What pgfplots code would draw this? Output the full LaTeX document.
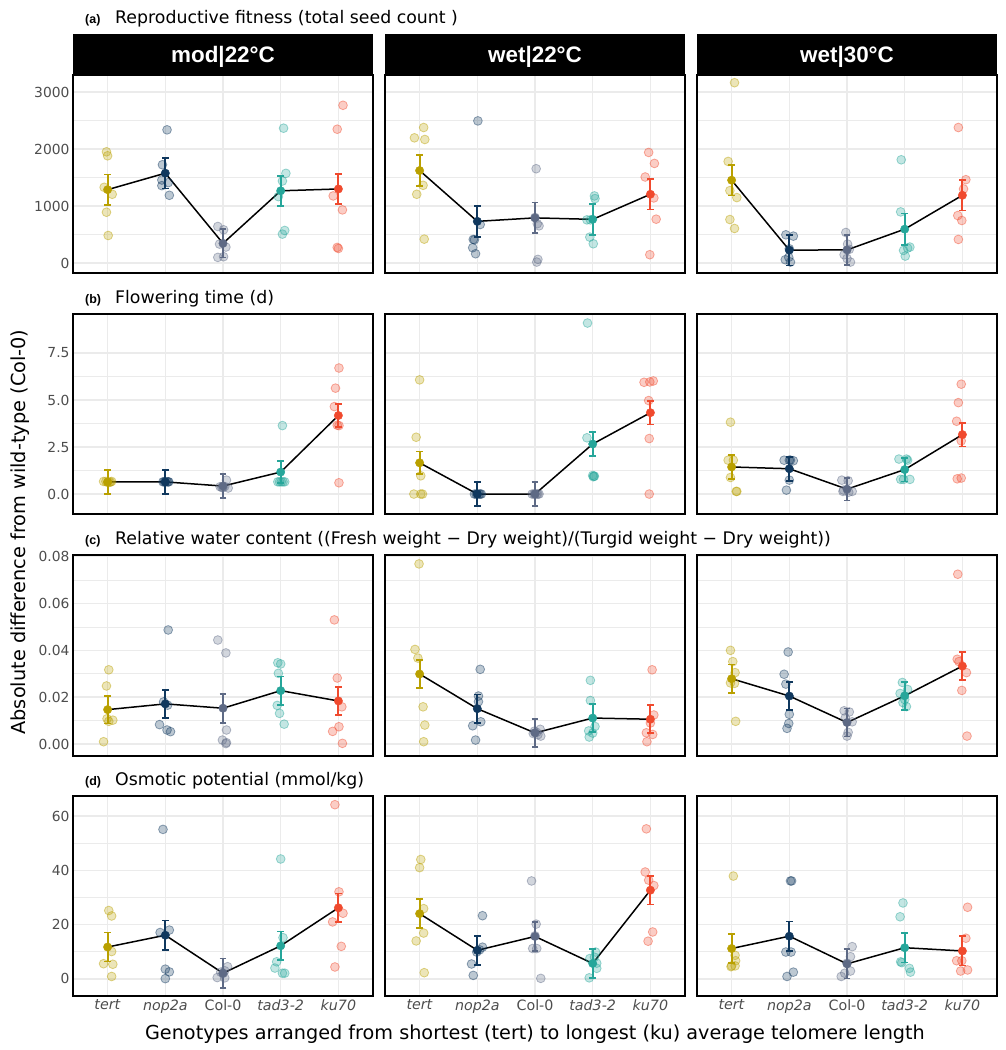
\documentclass[border=0pt]{standalone}
\usepackage{fontspec}
\setmainfont{DejaVu Sans}
\newfontfamily\arialfont{Liberation Sans}
\usepackage{pgfplots}
\pgfplotsset{compat=1.18}
\definecolor{tertc}{RGB}{185,160,0}
\definecolor{nopc}{RGB}{16,56,94}
\definecolor{colc}{RGB}{94,106,133}
\definecolor{tadc}{RGB}{38,166,154}
\definecolor{kuc}{RGB}{240,74,46}
\definecolor{gridc}{RGB}{235,235,235}
\definecolor{tickc}{RGB}{77,77,77}
\pgfplotsset{
 panel/.style={anchor=north west, scale only axis, width=300bp, height=200bp,
   xmin=0.4, xmax=5.6, xtick={1,2,3,4,5}, xticklabels={},
   scaled y ticks=false,
   major tick length=0pt, minor tick length=0pt,
   axis line style={line width=1.3bp, black},
   ymajorgrids, yminorgrids, xmajorgrids, minor y tick num=1,
   major grid style={line width=1.5bp, gridc},
   minor grid style={line width=0.8bp, gridc},
   tick label style={font=\fontsize{13.9}{16}\selectfont, text=tickc}},
 rowa/.style={height=198bp, ymin=-175, ymax=3298, ytick={0,1000,2000,3000}, yticklabels={0,1000,2000,3000}},
 rowb/.style={ymin=-1.06, ymax=9.57, ytick={0,2.5,5,7.5}, yticklabels={0.0,2.5,5.0,7.5}},
 rowc/.style={height=201bp, ymin=-0.0051, ymax=0.0807, ytick={0,0.02,0.04,0.06,0.08}, yticklabels={0.00,0.02,0.04,0.06,0.08}},
 rowd/.style={ymin=-6.3, ymax=67.4, ytick={0,20,40,60}, yticklabels={0,20,40,60}},
 noyl/.style={yticklabels={}},
 xlab/.style={xticklabels={\textit{tert},\textit{nop2a},Col-0,\textit{tad3-2},\textit{ku70}},
   xticklabel style={font=\fontsize{14.3}{16}\selectfont, text=tickc}},
 jit/.style={only marks, mark=*, mark size=4.4bp, color=#1, mark options={line width=0.8bp, draw opacity=0.45, fill opacity=0.28}},
 mn/.style={only marks, mark=*, mark size=4.2bp, color=#1,
   error bars/y dir=both, error bars/y explicit,
   error bars/error mark=-,
   error bars/error bar style={line width=1.9bp, #1},
   error bars/error mark options={rotate=90, line width=1.7bp, mark size=3.3bp, #1}},
}
\newcommand\jit[2]{\addplot[jit=#1] coordinates {#2};}
\newcommand\mline{\addplot[black, line width=1.5bp, mark=none] coordinates}
\newcommand\mean[4]{\addplot[mn=#1] coordinates {(#2,#3) +- (0,#4)};}
\newcommand\rowtitle[3]{%
  \node[anchor=base west, inner sep=0pt] at (85bp,-#1 bp) {\arialfont\bfseries\fontsize{12.5}{14}\selectfont (#2)};
  \node[anchor=base west, inner sep=0pt] at (115bp,-#1 bp) {\fontsize{17.4}{20}\selectfont #3};}
\begin{document}
\begin{tikzpicture}
\path[use as bounding box] (0bp,0bp) rectangle (1006bp,-1050bp);
% ---------------- Row a ----------------
\begin{axis}[panel, rowa, at={(73bp,-75bp)}]
\jit{tertc}{(0.98,1951)(1.00,1881)(0.94,1328)(1.08,1206)(0.98,891)(1.01,483)}
\jit{nopc}{(2.03,2336)(1.95,1724)(1.94,1456)(1.94,1357)(2.05,1410)(2.07,1188)}
\jit{colc}{(2.91,641)(3.01,583)(2.94,332)(3.05,280)(2.91,99)(3.01,111)}
\jit{tadc}{(4.05,2365)(4.09,1573)(4.03,1439)(3.96,1165)(4.07,571)(4.03,507)}
\jit{kuc}{(5.08,2767)(4.98,2347)(4.91,1177)(5.07,932)(4.98,274)(5.00,255)}
\mline{(1,1287)(2,1576)(3,345)(4,1267)(5,1299)};
\mean{tertc}{1}{1287}{268}\mean{nopc}{2}{1576}{271}\mean{colc}{3}{345}{248}\mean{tadc}{4}{1267}{265}\mean{kuc}{5}{1299}{268}
\end{axis}
\begin{axis}[panel, rowa, noyl, at={(385bp,-75bp)}]
\jit{tertc}{(1.07,2377)(0.91,2196)(1.09,2167)(1.06,1363)(0.95,1206)(1.08,419)}
\jit{nopc}{(2.01,2493)(2.05,676)(1.93,414)(1.95,408)(1.92,268)(1.97,163)}
\jit{colc}{(3.02,1654)(3.00,800)(3.04,690)(3.07,652)(3.05,64)(3.03,17)}
\jit{tadc}{(4.03,1177)(4.04,1130)(3.90,757)(3.96,757)(3.95,454)(4.01,338)}
\jit{kuc}{(4.97,1940)(5.07,1747)(4.91,1509)(5.06,1142)(5.10,769)(4.99,146)}
\mline{(1,1622)(2,731)(3,792)(4,766)(5,1206)};
\mean{tertc}{1}{1622}{271}\mean{nopc}{2}{731}{271}\mean{colc}{3}{792}{268}\mean{tadc}{4}{766}{271}\mean{kuc}{5}{1206}{268}
\end{axis}
\begin{axis}[panel, rowa, noyl, at={(697bp,-75bp)}]
\jit{tertc}{(1.05,3163)(0.94,1782)(0.97,1270)(1.09,1148)(0.97,763)(1.05,606)}
\jit{nopc}{(1.94,495)(2.07,472)(2.00,250)(1.99,100)(1.93,58)(2.02,17)}
\jit{colc}{(2.98,536)(3.01,332)(3.04,240)(2.95,146)(3.00,80)(3.06,17)}
\jit{tadc}{(3.94,1811)(3.93,897)(4.09,280)(4.05,262)(3.98,221)(4.01,122)}
\jit{kuc}{(4.93,2377)(5.06,1462)(5.02,1299)(4.92,833)(4.99,746)(4.93,414)}
\mline{(1,1453)(2,227)(3,230)(4,594)(5,1188)};
\mean{tertc}{1}{1453}{271}\mean{nopc}{2}{227}{268}\mean{colc}{3}{230}{265}\mean{tadc}{4}{594}{274}\mean{kuc}{5}{1188}{268}
\end{axis}
% ---------------- Row b ----------------
\begin{axis}[panel, rowb, at={(73bp,-314bp)}]
\jit{tertc}{(0.93,0.67)(1.07,0.67)(1.03,0.62)(0.97,0.67)(1.00,0.62)(1.05,0.64)}
\jit{nopc}{(1.96,0.65)(2.06,0.65)(2.00,0.65)(2.03,0.65)(1.98,0.65)(2.05,0.65)}
\jit{colc}{(3.06,0.74)(3.09,0.32)(2.95,0.39)(3.00,0.35)(3.03,0.40)(2.98,0.35)}
\jit{tadc}{(4.03,3.64)(3.95,0.65)(4.07,0.65)(4.01,0.65)(3.98,0.65)(4.04,0.65)}
\jit{kuc}{(5.01,6.70)(4.95,5.63)(4.93,4.65)(4.98,3.66)(5.01,3.64)(5.01,0.60)}
\mline{(1,0.645)(2,0.645)(3,0.425)(4,1.17)(5,4.175)};
\mean{tertc}{1}{0.645}{0.625}\mean{nopc}{2}{0.645}{0.625}\mean{colc}{3}{0.425}{0.635}\mean{tadc}{4}{1.17}{0.6}\mean{kuc}{5}{4.175}{0.605}
\end{axis}
\begin{axis}[panel, rowb, noyl, at={(385bp,-314bp)}]
\jit{tertc}{(1.00,6.07)(0.94,3.02)(1.02,0.97)(0.90,0)(1.02,0)(1.05,0)}
\jit{nopc}{(1.95,0)(1.98,0)(2.00,0)(2.03,0)(2.05,0)(2.07,0)}
\jit{colc}{(2.95,0)(2.98,0)(3.00,0)(3.03,0)(3.05,0)(3.07,0)}
\jit{tadc}{(3.91,9.09)(3.90,2.99)(4.00,0.99)(4.03,0.95)(4.02,0.95)(4.01,0.92)}
\jit{kuc}{(4.89,5.94)(4.99,5.96)(5.05,6.01)(4.97,4.97)(4.98,2.95)(4.98,0)}
\mline{(1,1.66)(2,0)(3,0)(4,2.66)(5,4.325)};
\mean{tertc}{1}{1.66}{0.6}\mean{nopc}{2}{0}{0.63}\mean{colc}{3}{0}{0.63}\mean{tadc}{4}{2.66}{0.63}\mean{kuc}{5}{4.325}{0.625}
\end{axis}
\begin{axis}[panel, rowb, noyl, at={(697bp,-314bp)}]
\jit{tertc}{(0.98,3.82)(0.94,1.80)(1.03,1.80)(0.98,0.88)(1.09,0.14)(1.08,0.14)}
\jit{nopc}{(1.91,1.80)(2.02,1.80)(2.07,1.77)(2.00,1.80)(2.00,0.74)(1.95,0.21)}
\jit{colc}{(2.91,0.74)(3.02,0.71)(2.93,0.14)(3.09,0.14)(2.94,0.21)(3.03,0.10)}
\jit{tadc}{(3.90,1.86)(4.05,1.80)(3.93,0.78)(4.09,0.78)(3.98,0.78)(4.03,1.86)}
\jit{kuc}{(4.98,5.84)(4.93,4.86)(4.90,3.87)(4.98,2.83)(4.91,0.81)(4.98,0.85)}
\mline{(1,1.44)(2,1.345)(3,0.26)(4,1.30)(5,3.16)};
\mean{tertc}{1}{1.44}{0.63}\mean{nopc}{2}{1.345}{0.635}\mean{colc}{3}{0.26}{0.61}\mean{tadc}{4}{1.30}{0.63}\mean{kuc}{5}{3.16}{0.63}
\end{axis}
% ---------------- Row c ----------------
\begin{axis}[panel, rowc, at={(73bp,-555bp)}]
\jit{tertc}{(1.02,0.0317)(0.98,0.0248)(0.99,0.0108)(1.09,0.0102)(1.02,0.0097)(0.93,0.0010)}
\jit{nopc}{(2.05,0.0487)(1.97,0.0180)(2.04,0.0166)(1.90,0.0083)(2.03,0.0060)(2.09,0.0053)}
\jit{colc}{(2.91,0.0444)(3.05,0.0389)(3.06,0.0060)(2.99,0.0017)(3.06,0.0006)(3.05,0.0002)}
\jit{tadc}{(3.95,0.0347)(4.00,0.0342)(3.96,0.0302)(3.94,0.0165)(3.98,0.0131)(4.06,0.0085)}
\jit{kuc}{(4.93,0.0530)(4.98,0.0282)(5.06,0.0159)(5.01,0.0074)(4.90,0.0054)(5.07,0.0003)}
\mline{(1,0.0147)(2,0.01715)(3,0.0153)(4,0.0228)(5,0.0184)};
\mean{tertc}{1}{0.0147}{0.0059}\mean{nopc}{2}{0.01715}{0.006}\mean{colc}{3}{0.0153}{0.0062}\mean{tadc}{4}{0.0228}{0.006}\mean{kuc}{5}{0.0184}{0.006}
\end{axis}
\begin{axis}[panel, rowc, noyl, at={(385bp,-555bp)}]
\jit{tertc}{(0.99,0.0769)(0.92,0.0404)(0.97,0.0367)(1.06,0.0159)(1.09,0.0081)(1.07,0.0010)}
\jit{nopc}{(2.05,0.0319)(2.02,0.0205)(2.02,0.0181)(2.06,0.0095)(1.92,0.0078)(1.97,0.0017)}
\jit{colc}{(3.09,0.0063)(3.10,0.0034)(3.03,0.0050)(2.97,0.0045)(3.05,0.0040)(2.99,0.0055)}
\jit{tadc}{(3.96,0.0272)(3.96,0.0186)(4.04,0.0075)(3.93,0.0056)(3.94,0.0030)(4.00,0.0047)}
\jit{kuc}{(5.03,0.0317)(5.06,0.0124)(4.93,0.0048)(5.04,0.0041)(4.94,0.0010)(5.00,0.0090)}
\mline{(1,0.0299)(2,0.0151)(3,0.00475)(4,0.0111)(5,0.0106)};
\mean{tertc}{1}{0.0299}{0.0061}\mean{nopc}{2}{0.0151}{0.006}\mean{colc}{3}{0.00475}{0.006}\mean{tadc}{4}{0.0111}{0.0061}\mean{kuc}{5}{0.0106}{0.006}
\end{axis}
\begin{axis}[panel, rowc, noyl, at={(697bp,-555bp)}]
\jit{tertc}{(0.98,0.0400)(1.02,0.0352)(1.06,0.0305)(1.05,0.0259)(1.07,0.0097)(0.98,0.0261)}
\jit{nopc}{(1.98,0.0393)(1.91,0.0298)(1.94,0.0256)(2.00,0.0127)(1.99,0.0088)(1.96,0.0067)}
\jit{colc}{(2.95,0.0142)(3.04,0.0137)(3.09,0.0095)(3.02,0.0050)(3.00,0.0034)(2.97,0.0112)}
\jit{tadc}{(3.96,0.0263)(4.05,0.0233)(3.92,0.0216)(3.97,0.0177)(4.03,0.0160)(4.00,0.0190)}
\jit{kuc}{(4.92,0.0725)(4.91,0.0362)(4.94,0.0352)(5.07,0.0305)(4.99,0.0229)(5.08,0.0034)}
\mline{(1,0.0279)(2,0.0205)(3,0.0092)(4,0.0206)(5,0.0333)};
\mean{tertc}{1}{0.0279}{0.006}\mean{nopc}{2}{0.0205}{0.006}\mean{colc}{3}{0.0092}{0.006}\mean{tadc}{4}{0.0206}{0.006}\mean{kuc}{5}{0.0333}{0.0061}
\end{axis}
% ---------------- Row d ----------------
\begin{axis}[panel, rowd, xlab, at={(73bp,-796bp)}]
\jit{tertc}{(1.02,25.2)(1.07,23.2)(1.07,10.1)(0.93,5.6)(1.09,5.4)(1.07,0.9)}
\jit{nopc}{(1.96,55.1)(2.07,18.0)(1.91,17.1)(2.00,3.6)(2.07,2.6)(2.00,0.1)}
\jit{colc}{(3.08,4.5)(3.03,3.0)(2.96,2.5)(3.00,2.0)(2.90,0.5)(3.03,0.4)}
\jit{tadc}{(4.00,44.2)(4.04,15.2)(3.93,6.3)(3.90,4.0)(4.03,2.1)(4.07,2.1)}
\jit{kuc}{(4.94,64.2)(5.01,32.1)(5.08,24.2)(4.90,21.0)(5.05,12.0)(4.94,4.4)}
\mline{(1,11.75)(2,16.1)(3,2.1)(4,12.2)(5,26.2)};
\mean{tertc}{1}{11.75}{5.35}\mean{nopc}{2}{16.1}{5.4}\mean{colc}{3}{2.1}{5.4}\mean{tadc}{4}{12.2}{5.3}\mean{kuc}{5}{26.2}{5.3}
\end{axis}
\begin{axis}[panel, rowd, noyl, xlab, at={(385bp,-796bp)}]
\jit{tertc}{(1.02,44.0)(1.00,41.0)(1.07,25.9)(1.07,16.9)(0.94,14.0)(1.08,2.3)}
\jit{nopc}{(2.09,23.3)(2.09,11.7)(2.04,10.7)(1.99,9.9)(1.90,5.5)(1.93,1.3)}
\jit{colc}{(2.94,36.1)(3.02,20.2)(3.00,15.9)(2.96,11.2)(3.03,11.2)(3.10,0.2)}
\jit{tadc}{(4.05,9.9)(3.95,7.5)(4.07,5.8)(4.07,3.9)(4.03,8.0)(3.94,0.4)}
\jit{kuc}{(4.93,55.3)(4.91,39.4)(4.97,36.4)(5.06,34.4)(5.04,17.3)(4.96,13.9)}
\mline{(1,24.05)(2,10.55)(3,15.65)(4,5.7)(5,32.7)};
\mean{tertc}{1}{24.05}{5.35}\mean{nopc}{2}{10.55}{5.35}\mean{colc}{3}{15.65}{5.35}\mean{tadc}{4}{5.7}{5.3}\mean{kuc}{5}{32.7}{5.3}
\end{axis}
\begin{axis}[panel, rowd, noyl, xlab, at={(697bp,-796bp)}]
\jit{tertc}{(1.03,37.9)(1.06,8.7)(1.07,6.7)(1.00,4.8)(1.06,4.8)(0.99,4.5)}
\jit{nopc}{(2.02,36.1)(2.04,36.1)(1.94,9.9)(2.03,9.9)(2.07,2.5)(1.96,0.9)}
\jit{colc}{(3.09,11.9)(3.06,8.2)(3.00,5.8)(3.06,2.9)(2.96,2.1)(2.90,0.9)}
\jit{tadc}{(3.97,28.0)(3.92,22.9)(3.93,6.3)(3.95,6.0)(4.08,3.9)(4.10,2.5)}
\jit{kuc}{(5.09,26.4)(5.06,15.0)(4.90,6.7)(4.99,6.7)(4.97,2.9)(5.09,3.3)}
\mline{(1,11.2)(2,15.75)(3,5.55)(4,11.5)(5,10.3)};
\mean{tertc}{1}{11.2}{5.4}\mean{nopc}{2}{15.75}{5.45}\mean{colc}{3}{5.55}{5.35}\mean{tadc}{4}{11.5}{5.4}\mean{kuc}{5}{10.3}{5.4}
\end{axis}
% ---------------- strips ----------------
\foreach \x/\t in {73/mod|22°C, 385/wet|22°C, 697/wet|30°C}{
  \fill[black] (\x bp,-34bp) rectangle (\x bp+300bp,-75bp);
  \node[anchor=base, text=white, inner sep=0pt] at (\x bp+150bp,-62.7bp) {\arialfont\bfseries\fontsize{22.5}{26}\selectfont \t};
}
% ---------------- row titles ----------------
\rowtitle{23}{a}{Reproductive fitness (total seed count )}
\rowtitle{303}{b}{Flowering time (d)}
\rowtitle{544}{c}{Relative water content ((Fresh weight − Dry weight)/(Turgid weight − Dry weight))}
\rowtitle{785}{d}{Osmotic potential (mmol/kg)}
% ---------------- axis titles ----------------
\node[rotate=90, anchor=base, inner sep=0pt] at (25.5bp,-532bp) {\fontsize{19.4}{22}\selectfont Absolute difference from wild-type (Col-0)};
\node[anchor=base, inner sep=0pt] at (535bp,-1039bp) {\fontsize{19.3}{22}\selectfont Genotypes arranged from shortest (tert) to longest (ku) average telomere length};
\end{tikzpicture}
\end{document}
